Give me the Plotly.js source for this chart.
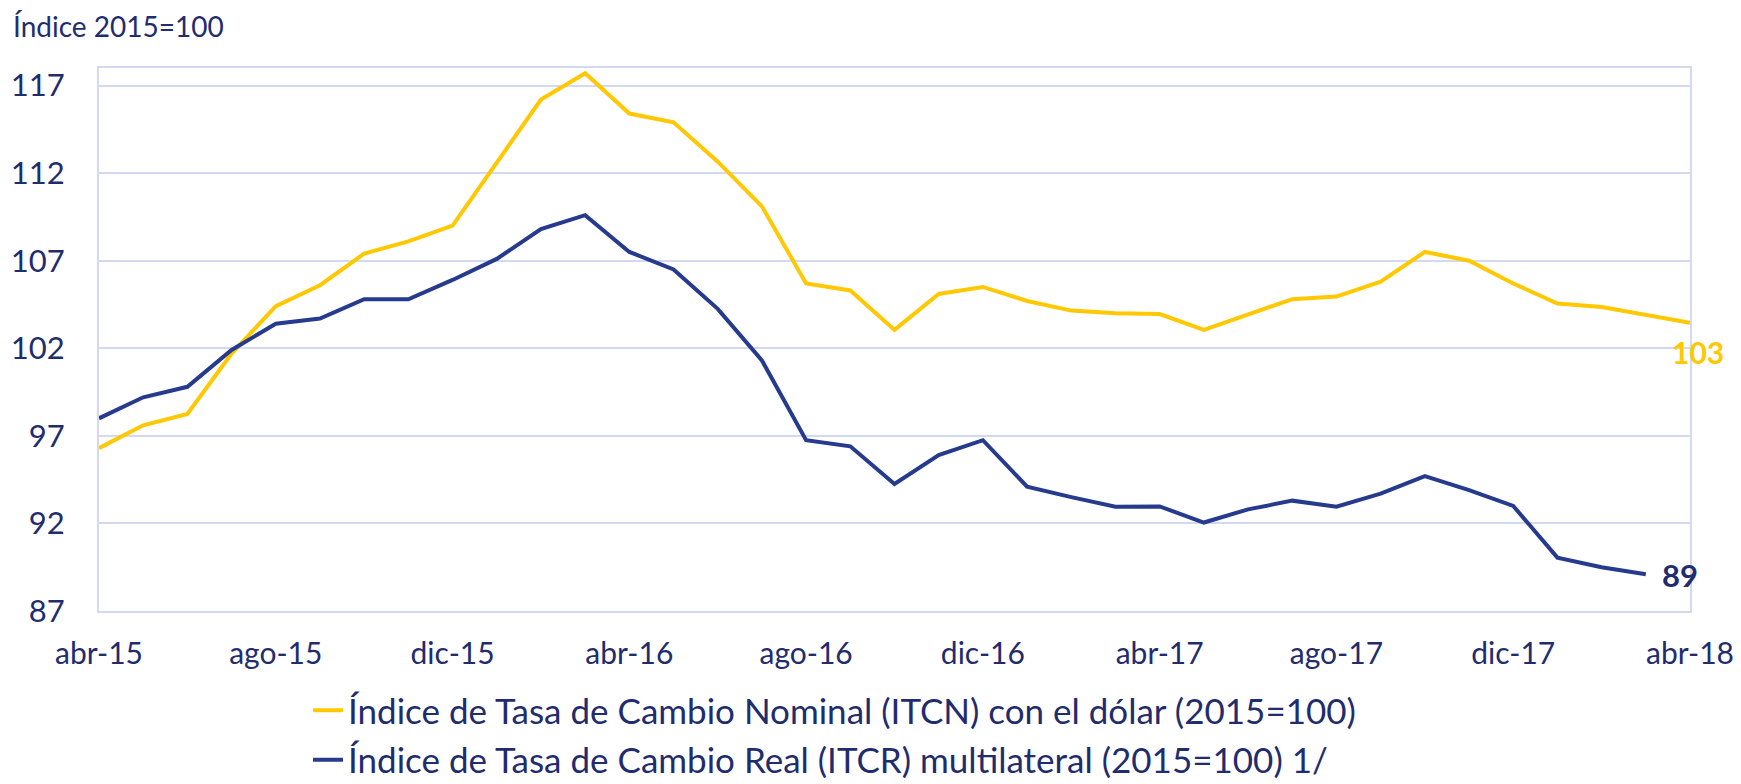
<!DOCTYPE html>
<html>
<head>
<meta charset="utf-8">
<script src="https://cdn.plot.ly/plotly-3.0.1.min.js"></script>
<style>html,body{margin:0;padding:0;background:#fff;}#chart{width:1741px;height:784px;}</style>
</head>
<body>
<div id="chart"></div>
<script>
const months = ["abr-15","may-15","jun-15","jul-15","ago-15","sep-15","oct-15","nov-15","dic-15",
  "ene-16","feb-16","mar-16","abr-16","may-16","jun-16","jul-16","ago-16","sep-16","oct-16","nov-16","dic-16",
  "ene-17","feb-17","mar-17","abr-17","may-17","jun-17","jul-17","ago-17","sep-17","oct-17","nov-17","dic-17",
  "ene-18","feb-18","mar-18","abr-18"];
const itcn = [96.3,97.6,98.25,101.7,104.4,105.6,107.4,108.1,109.0,
  112.6,116.2,117.7,115.4,114.9,112.65,110.1,105.7,105.3,103.05,105.1,105.5,
  104.7,104.15,104.0,103.95,103.05,103.9,104.8,104.95,105.8,107.5,107.0,105.7,
  104.55,104.35,103.9,103.45];
const itcr = [98.0,99.2,99.8,101.9,103.4,103.7,104.8,104.8,105.9,
  107.1,108.8,109.6,107.5,106.5,104.25,101.3,96.75,96.4,94.25,95.9,96.75,
  94.1,93.5,92.95,92.97,92.05,92.8,93.3,92.95,93.7,94.7,93.9,93.0,
  90.05,89.5,89.1];
const yTicks = [87,92,97,102,107,112,117];
const xTicks = ["abr-15","ago-15","dic-15","abr-16","ago-16","dic-16","abr-17","ago-17","dic-17","abr-18"];
const names = ["Índice de Tasa de Cambio Nominal (ITCN) con el dólar (2015=100)",
  "Índice de Tasa de Cambio Real (ITCR) multilateral (2015=100) 1/"];

const YEL = "#FFC800", BLU = "#263A8E", TXT = "#1F2C6E", GRID = "#D3D9F0";
const FONT = "Lato, 'Open Sans', sans-serif";

const traces = [
  {x: months.slice(0, itcn.length), y: itcn, type: "scatter", mode: "lines", name: names[0],
   legendgroup: "a", line: {color: YEL, width: 4}},
  {x: months.slice(0, itcr.length), y: itcr, type: "scatter", mode: "lines", name: names[1],
   legendgroup: "b", line: {color: BLU, width: 4}}
];

const lastN = itcn.length - 1, lastR = itcr.length - 1;
const layout = {
  width: 1741, height: 784,
  margin: {l: 99, r: 51, t: 68, b: 173, autoexpand: false},
  paper_bgcolor: "#fff", plot_bgcolor: "#fff",
  font: {family: FONT, color: TXT},
  showlegend: true,
  title: {text: "Índice 2015=100", x: 13/1741, xanchor: "left", xref: "container",
          y: 1 - 27/784, yanchor: "middle", yref: "container",
          font: {family: FONT, size: 28, color: TXT}},
  xaxis: {type: "category", categoryorder: "array", categoryarray: months,
          range: [0, months.length - 1], tickmode: "array", tickvals: xTicks, ticktext: xTicks,
          showgrid: false, zeroline: false, showline: true, mirror: true, automargin: false,
          linecolor: GRID, linewidth: 2, ticks: "", ticklabelstandoff: 15,
          tickfont: {family: FONT, size: 30, color: TXT}},
  yaxis: {range: [87, 118], tickmode: "array", tickvals: yTicks, ticktext: yTicks.map(String),
          showgrid: true, gridcolor: GRID, gridwidth: 2, zeroline: false, automargin: false,
          showline: true, mirror: true, linecolor: GRID, linewidth: 2, ticks: "",
          ticklabelstandoff: 26, tickfont: {family: FONT, size: 31, color: TXT}},
  legend: {orientation: "v", x: (308 - 99) / 1591, xanchor: "left", y: (611 - 681) / 543, yanchor: "top",
           font: {family: FONT, size: 35, color: TXT}, tracegroupgap: 1, bgcolor: "rgba(0,0,0,0)"},
  annotations: [
    {x: months[lastN], y: itcn[lastN], xref: "x", yref: "y", text: "<b>" + Math.round(itcn[lastN]) + "</b>",
     showarrow: false, xanchor: "center", yanchor: "middle", xshift: 8, yshift: -29,
     font: {family: FONT, size: 30, color: YEL}},
    {x: months[lastR], y: itcr[lastR], xref: "x", yref: "y", text: "<b>" + Math.round(itcr[lastR]) + "</b>",
     showarrow: false, xanchor: "left", yanchor: "middle", xshift: 14, yshift: -1,
     font: {family: FONT, size: 31, color: TXT}}
  ]
};

Plotly.newPlot("chart", traces, layout, {displayModeBar: false, staticPlot: true});
</script>
</body>
</html>
